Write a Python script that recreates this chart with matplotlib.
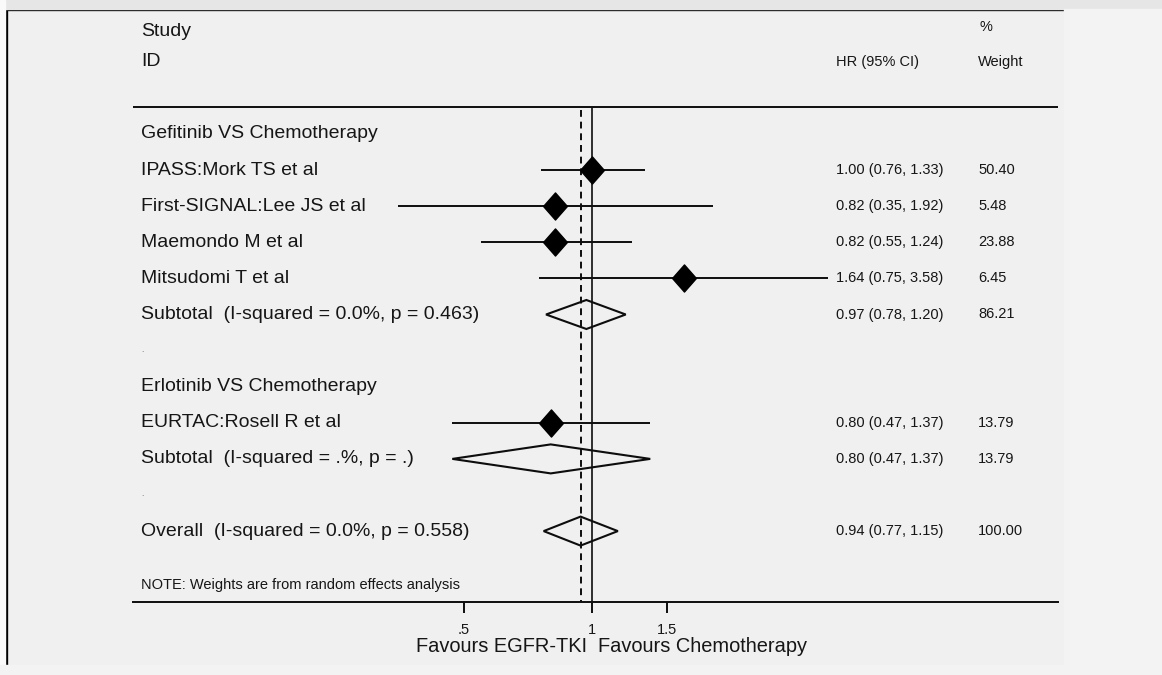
import numpy as np
import matplotlib
matplotlib.use("Agg")
import matplotlib.pyplot as plt
from matplotlib.patches import Polygon, Rectangle
from matplotlib.path import Path
from matplotlib.ticker import NullLocator
from matplotlib.transforms import blended_transform_factory

plt.rcParams["font.family"] = ["Liberation Sans", "DejaVu Sans"]

# study level hazard ratios
studies = ["IPASS:Mork TS et al", "First-SIGNAL:Lee JS et al", "Maemondo M et al",
           "Mitsudomi T et al", "EURTAC:Rosell R et al"]
hr = [1.00, 0.82, 0.82, 1.64, 0.80]
ci_low = [0.76, 0.35, 0.55, 0.75, 0.47]
ci_high = [1.33, 1.92, 1.24, 3.58, 1.37]
weights = [50.40, 5.48, 23.88, 6.45, 13.79]

# pooled estimates: gefitinib subtotal, erlotinib subtotal, overall
pooled_labels = ["Subtotal  (I-squared = 0.0%, p = 0.463)",
                 "Subtotal  (I-squared = .%, p = .)",
                 "Overall  (I-squared = 0.0%, p = 0.558)"]
pooled_hr = [0.97, 0.80, 0.94]
pooled_low = [0.78, 0.47, 0.77]
pooled_high = [1.20, 1.37, 1.15]
pooled_weights = [86.21, 13.79, 100.00]

groups = ["Gefitinib VS Chemotherapy", "Erlotinib VS Chemotherapy"]
xticks = [0.5, 1, 1.5]
xtick_labels = [".5", "1", "1.5"]

# row order: (kind, index)
rows = [("group", 0), ("study", 0), ("study", 1), ("study", 2), ("study", 3),
        ("pooled", 0), ("blank", None), ("group", 1), ("study", 4),
        ("pooled", 1), ("blank", None), ("pooled", 2)]

W, H = 1162, 675
X1 = 592          # pixel of HR = 1
PX_LN = 185       # pixels per unit of ln(HR)
ROW0, ROW_STEP = 134, 36.1
AXIS_Y, RULE_Y = 602, 107
TXT = "#161616"
INK = "#0d0d0d"
BIG, SMALL = 14, 10.5

fig = plt.figure(figsize=(W / 100, H / 100), dpi=100)
ax = fig.add_axes([0, 0, 1, 1])
ax.set_xscale("log")
ax.set_xlim(np.exp(-X1 / PX_LN), np.exp((W - X1) / PX_LN))
ax.set_ylim(H, 0)
ax.set_facecolor("none")
fig.patch.set_facecolor("#f0f0f0")


def px_to_hr(px):
    return np.exp((px - X1) / PX_LN)


tA = ax.transAxes
# page background pieces and frame
fig.patches.append(Rectangle((0, 1 - 9 / H), 1, 9 / H, transform=fig.transFigure,
                             color="#e6e6e6", zorder=0))
fig.patches.append(Rectangle((0, 0), 5 / W, 1, transform=fig.transFigure,
                             color="#fafafa", zorder=0))
fig.patches.append(Rectangle((1064 / W, 0), 1, 1 - 9 / H, transform=fig.transFigure,
                             color="#f3f3f3", zorder=0))
fig.patches.append(Rectangle((0, 0), 1, 10 / H, transform=fig.transFigure,
                             color="#f3f3f3", zorder=0))
ax.plot([6 / W, 6 / W], [0, 1 - 9 / H], transform=tA, color="black", lw=2.4,
        solid_capstyle="butt")
ax.plot([5 / W, 1], [1 - 9 / H, 1 - 9 / H], transform=tA, color="black", lw=2.4,
        solid_capstyle="butt")

col = blended_transform_factory(ax.transAxes, ax.transData)
lab_x, hr_x, wt_x = 141 / W, 836 / W, 978 / W

# headers
ax.text(lab_x, 31, "Study", transform=col, fontsize=BIG, color=TXT, va="center")
ax.text(lab_x, 62, "ID", transform=col, fontsize=BIG, color=TXT, va="center")
ax.text(hr_x, 62, "HR (95% CI)", transform=col, fontsize=SMALL, color=TXT, va="center")
ax.text(wt_x + 1 / W, 27, "%", transform=col, fontsize=SMALL, color=TXT, va="center")
ax.text(wt_x, 62, "Weight", transform=col, fontsize=SMALL, color=TXT, va="center")
ax.hlines(RULE_Y, px_to_hr(133), px_to_hr(1058), color=INK, lw=1.4)

# reference lines: no effect and overall estimate
ax.vlines(1, RULE_Y, AXIS_Y, color=INK, lw=1.2)
ax.vlines(pooled_hr[2], RULE_Y + 3, AXIS_Y, color=INK, lw=1.4, linestyles=(0, (3.5, 2.5)))

diamond = Path([(0, 1), (0.88, 0), (0, -1), (-0.88, 0), (0, 1)],
               [Path.MOVETO, Path.LINETO, Path.LINETO, Path.LINETO, Path.CLOSEPOLY])

for i, (kind, k) in enumerate(rows):
    y = ROW0 + ROW_STEP * i
    if kind == "group":
        ax.text(lab_x, y, groups[k], transform=col, fontsize=BIG, color=TXT, va="center")
    elif kind == "blank":
        ax.text(lab_x, y, ".", transform=col, fontsize=6, color="#555555", va="center")
    elif kind == "study":
        ax.text(lab_x, y, studies[k], transform=col, fontsize=BIG, color=TXT, va="center")
        ax.hlines(y, ci_low[k], ci_high[k], color=INK, lw=1.4)
        ax.plot(hr[k], y, marker=diamond, ms=19.5, color="black", zorder=4)
        ax.text(hr_x, y, f"{hr[k]:.2f} ({ci_low[k]:.2f}, {ci_high[k]:.2f})",
                transform=col, fontsize=SMALL, color=TXT, va="center")
        ax.text(wt_x, y, f"{weights[k]:.2f}", transform=col, fontsize=SMALL,
                color=TXT, va="center")
    else:
        ax.text(lab_x, y, pooled_labels[k], transform=col, fontsize=BIG, color=TXT,
                va="center")
        half = 14.5
        ax.add_patch(Polygon([(pooled_low[k], y), (pooled_hr[k], y - half),
                              (pooled_high[k], y), (pooled_hr[k], y + half)],
                             closed=True, fill=False, ec=INK, lw=1.5, zorder=4))
        ax.text(hr_x, y, f"{pooled_hr[k]:.2f} ({pooled_low[k]:.2f}, {pooled_high[k]:.2f})",
                transform=col, fontsize=SMALL, color=TXT, va="center")
        ax.text(wt_x, y, f"{pooled_weights[k]:.2f}", transform=col, fontsize=SMALL,
                color=TXT, va="center")

ax.text(lab_x, 585, "NOTE: Weights are from random effects analysis", transform=col,
        fontsize=SMALL, color=TXT, va="center")

# x axis drawn on the bottom spine, moved up to the plot floor
for s in ["top", "right", "left"]:
    ax.spines[s].set_visible(False)
ax.spines["bottom"].set_position(("data", AXIS_Y))
ax.spines["bottom"].set_bounds(px_to_hr(133), px_to_hr(1058))
ax.spines["bottom"].set_linewidth(1.4)
ax.spines["bottom"].set_color(INK)
ax.set_yticks([])
ax.set_xticks(xticks)
ax.set_xticklabels(xtick_labels)
ax.xaxis.set_minor_locator(NullLocator())
ax.tick_params(axis="x", direction="out", length=8, width=1.4, color=INK,
               labelsize=SMALL, labelcolor=TXT, pad=7)
ax.text(px_to_hr(587), 646, "Favours EGFR-TKI", fontsize=14.4, color=TXT,
        ha="right", va="center")
ax.text(px_to_hr(598), 646, "Favours Chemotherapy", fontsize=14.4, color=TXT,
        ha="left", va="center")

fig.savefig("out.png", dpi=100, facecolor=fig.get_facecolor())
